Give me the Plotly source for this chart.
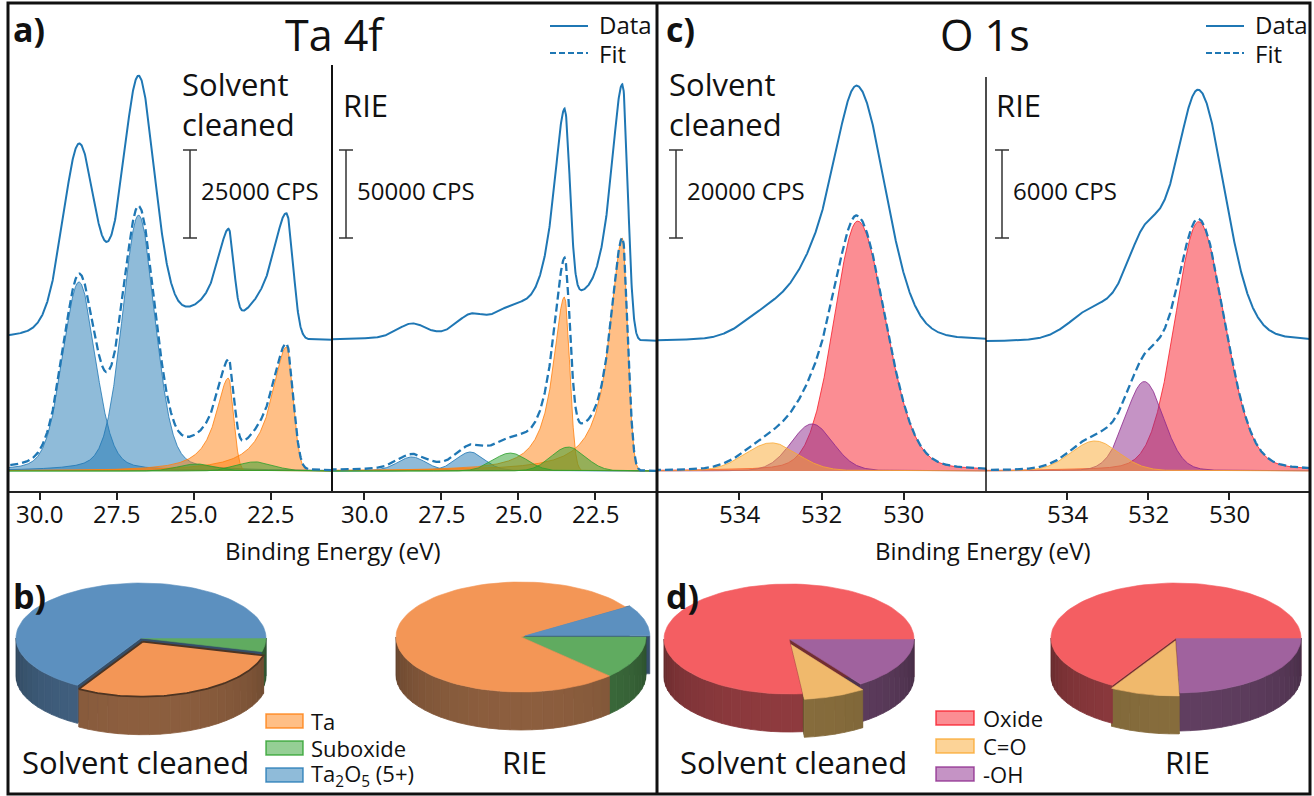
import numpy as np
import plotly.graph_objects as go

W, H = 1314, 796
FONT = "Open Sans"
INK = "#111111"

# ---------------- Ta 4f (binding energy eV, intensity CPS) ----------------
ta_component = ["Ta2O5", "Ta2O5", "Ta", "Ta", "Suboxide", "Suboxide"]
ta_eta_hi = [0.25, 0.25, 1.0, 1.0, 0.0, 0.0]
ta_eta_lo = [0.25, 0.25, 0.0, 0.0, 0.0, 0.0]

ta_sol_center = [28.73, 26.79, 23.87, 21.98, 24.90, 23.00]
ta_sol_height = [53700, 72700, 26400, 35200, 2000, 2600]
ta_sol_hw_hi = [0.63, 0.63, 0.50, 0.58, 0.70, 0.70]
ta_sol_hw_lo = [0.63, 0.63, 0.20, 0.25, 0.70, 0.70]
ta_sol_data_gain = [1, 1, 1, 1, 1, 1]
ta_sol_data_offset = 37000
ta_sol_scale_bar = 25000

ta_rie_center = [28.45, 26.56, 23.50, 21.62, 25.26, 23.38]
ta_rie_height = [8000, 10800, 98900, 132400, 10200, 13600]
ta_rie_hw_hi = [0.55, 0.55, 0.45, 0.50, 0.65, 0.65]
ta_rie_hw_lo = [0.55, 0.55, 0.20, 0.20, 0.65, 0.65]
ta_rie_data_gain = [1, 1, 1.1, 1.1, 1, 1]
ta_rie_data_offset = 74000
ta_rie_scale_bar = 50000

ta_ticks = [30.0, 27.5, 25.0, 22.5]
ta_tick_text = ["30.0", "27.5", "25.0", "22.5"]
ta_be_range = [31.04, 20.5]

# ---------------- O 1s ----------------
o_component = ["Oxide", "-OH", "C=O"]
o_eta_hi = [0.15, 0.1, 0.1]
o_eta_lo = [0.15, 0.1, 0.1]

o_sol_center = [531.12, 532.23, 533.22]
o_sol_height = [56800, 10700, 6400]
o_sol_hw_hi = [0.68, 0.60, 0.75]
o_sol_hw_lo = [0.80, 0.60, 0.75]
o_sol_data_gain = [1, 1, 1]
o_sol_data_offset = 29500
o_sol_scale_bar = 20000

o_rie_center = [530.75, 532.09, 533.31]
o_rie_height = [17000, 6100, 2050]
o_rie_hw_hi = [0.69, 0.55, 0.70]
o_rie_hw_lo = [0.76, 0.55, 0.70]
o_rie_data_gain = [1, 1, 1]
o_rie_data_offset = 8800
o_rie_scale_bar = 6000

o_ticks = [534, 532, 530]
o_tick_text = ["534", "532", "530"]
o_be_range = [536.0, 528.0]

# ---------------- pie fractions (%), clockwise from 3 o'clock ----------------
ta_pie_order = ["Suboxide", "Ta", "Ta2O5"]
ta_pie_solvent = [4.0, 29.5, 66.5]
ta_pie_rie = [12.5, 78.3, 9.2]
o_pie_order = ["-OH", "C=O", "Oxide"]
o_pie_solvent = [15.3, 8.0, 76.7]
o_pie_rie = [24.5, 9.0, 66.5]

# ---------------- styles ----------------
BASE = {"Ta2O5": (31, 119, 180), "Ta": (255, 127, 14), "Suboxide": (44, 160, 44),
        "Oxide": (248, 28, 40), "-OH": (140, 40, 140), "C=O": (250, 168, 48)}
PIE_TOP = {"Ta2O5": (92, 144, 191), "Ta": (243, 150, 86), "Suboxide": (96, 171, 96),
           "Oxide": (244, 94, 98), "C=O": (240, 185, 108), "-OH": (160, 98, 158)}
PIE_SIDE = {"Ta2O5": (66, 98, 130), "Ta": (140, 94, 62), "Suboxide": (62, 112, 62),
            "Oxide": (142, 58, 62), "C=O": (134, 108, 60), "-OH": (96, 62, 96)}
BLUE = "#1f77b4"

# pixel layout
FRAME_L, FRAME_R, FRAME_T, FRAME_B, MID_X = 8, 1310, 3, 794, 657
PLOT_TOP, AXIS_Y, BASE_Y = 65, 491, 471
BAR_TOP, BAR_BOT = 150, 238
TICKLABEL_Y = 513
SUB_PX = [(8, 332), (332, 657), (657, 986), (986, 1310)]


def PX(x):
    return x / W


def PY(y):
    return 1 - y / H


def rgb(c, a=None, f=1.0):
    r, g, b = [max(0, min(255, int(round(v * f)))) for v in c]
    return f"rgb({r},{g},{b})" if a is None else f"rgba({r},{g},{b},{a})"


def peak(x, c, h, whi, wlo, ehi, elo):
    d = x - c
    w = np.where(d > 0, whi, wlo)
    eta = np.where(d > 0, ehi, elo)
    u = (d / w) ** 2
    return h * ((1 - eta) * np.exp(-np.log(2) * u) + eta / (1 + u))


fig = go.Figure()


def add_spectrum(i, names, centers, heights, hwhi, hwlo, ehi, elo, gains, offset, xr, draw_order):
    xa = "x" if i == 1 else f"x{i}"
    ya = "y" if i == 1 else f"y{i}"
    x = np.linspace(min(xr), max(xr), 1200)
    comps = [peak(x, c, h, a, b, e1, e2)
             for c, h, a, b, e1, e2 in zip(centers, heights, hwhi, hwlo, ehi, elo)]
    for j in draw_order:
        col = BASE[names[j]]
        fig.add_trace(go.Scatter(x=x, y=comps[j], mode="lines", fill="tozeroy",
                                 fillcolor=rgb(col, 0.5), line=dict(color=rgb(col, 0.8), width=1),
                                 xaxis=xa, yaxis=ya, hoverinfo="skip", showlegend=False))
    fit = np.sum(comps, axis=0)
    data = np.sum([g * c for g, c in zip(gains, comps)], axis=0) + offset
    fig.add_trace(go.Scatter(x=x, y=fit, mode="lines", line=dict(color=BLUE, width=2.3, dash="8px,4px"),
                             xaxis=xa, yaxis=ya, hoverinfo="skip", showlegend=False))
    fig.add_trace(go.Scatter(x=x, y=data, mode="lines", line=dict(color=BLUE, width=2),
                             xaxis=xa, yaxis=ya, hoverinfo="skip", showlegend=False))


add_spectrum(1, ta_component, ta_sol_center, ta_sol_height, ta_sol_hw_hi, ta_sol_hw_lo,
             ta_eta_hi, ta_eta_lo, ta_sol_data_gain, ta_sol_data_offset, ta_be_range, [0, 1, 2, 3, 4, 5])
add_spectrum(2, ta_component, ta_rie_center, ta_rie_height, ta_rie_hw_hi, ta_rie_hw_lo,
             ta_eta_hi, ta_eta_lo, ta_rie_data_gain, ta_rie_data_offset, ta_be_range, [0, 1, 2, 3, 4, 5])
add_spectrum(3, o_component, o_sol_center, o_sol_height, o_sol_hw_hi, o_sol_hw_lo,
             o_eta_hi, o_eta_lo, o_sol_data_gain, o_sol_data_offset, o_be_range, [0, 1, 2])
add_spectrum(4, o_component, o_rie_center, o_rie_height, o_rie_hw_hi, o_rie_hw_lo,
             o_eta_hi, o_eta_lo, o_rie_data_gain, o_rie_data_offset, o_be_range, [0, 1, 2])

# ---------------- 3D pies (pixel overlay axes) ----------------


def add_pie(cx, cy, values, order, explode, outline, rx=125, ry=55, depth=38):
    fr = np.array(values, float) / np.sum(values)
    bnd = -2 * np.pi * np.concatenate([[0], np.cumsum(fr)])
    kw = dict(xaxis="x5", yaxis="y5", mode="lines", fill="toself", hoverinfo="skip", showlegend=False)
    offs = []
    for k in range(len(fr)):
        mid = (bnd[k] + bnd[k + 1]) / 2
        offs.append((explode[k] * np.cos(mid), -explode[k] * np.sin(mid)))
    # radial faces
    for k, name in enumerate(order):
        ox, oy = offs[k]
        for a in (bnd[k], bnd[k + 1]):
            ex, ey = cx + ox + rx * np.cos(a), cy + oy - ry * np.sin(a)
            c0x, c0y = cx + ox, cy + oy
            col = rgb(PIE_SIDE[name], f=0.8)
            fig.add_trace(go.Scatter(x=[c0x, ex, ex, c0x, c0x], y=[c0y, ey, ey + depth, c0y + depth, c0y],
                                     fillcolor=col, line=dict(color=col, width=0.5), **kw))
    # outer walls (front half only)
    for k, name in enumerate(order):
        ox, oy = offs[k]
        hi, lo = min(bnd[k], 0), max(bnd[k + 1], -np.pi)
        if lo >= hi:
            continue
        nseg = max(2, int(np.ceil((hi - lo) / (np.pi / 36))))
        edges = np.linspace(hi, lo, nseg + 1)
        for j in range(nseg):
            t = np.linspace(edges[j], edges[j + 1], 5)
            xs = cx + ox + rx * np.cos(t)
            ys = cy + oy - ry * np.sin(t)
            tm = (edges[j] + edges[j + 1]) / 2
            shade = 0.68 + 0.32 * abs(np.sin(tm)) ** 0.7
            col = rgb(PIE_SIDE[name], f=shade)
            fig.add_trace(go.Scatter(x=np.concatenate([xs, xs[::-1], xs[:1]]),
                                     y=np.concatenate([ys, ys[::-1] + depth, ys[:1]]),
                                     fillcolor=col, line=dict(color=col, width=0.8), **kw))
    # tops
    for k, name in enumerate(order):
        ox, oy = offs[k]
        t = np.linspace(bnd[k], bnd[k + 1], 90)
        xs = np.concatenate([[cx + ox], cx + ox + rx * np.cos(t), [cx + ox]])
        ys = np.concatenate([[cy + oy], cy + oy - ry * np.sin(t), [cy + oy]])
        if outline[k]:
            line = dict(color=rgb(PIE_SIDE[name], f=0.55), width=1.8)
        else:
            line = dict(color=rgb(PIE_TOP[name]), width=0.6)
        fig.add_trace(go.Scatter(x=xs, y=ys, fillcolor=rgb(PIE_TOP[name]), line=line, **kw))


add_pie(141, 638, ta_pie_solvent, ta_pie_order, [0, 4, 0], [0, 1, 0])
add_pie(521, 637, ta_pie_rie, ta_pie_order, [0, 0, 4], [0, 0, 0])
add_pie(789, 639, o_pie_solvent, o_pie_order, [0, 6, 0], [0, 0, 0])
add_pie(1176, 638, o_pie_rie, o_pie_order, [0, 3, 0], [0, 0, 0])

# ---------------- axes ----------------
layout = dict(width=W, height=H, margin=dict(l=0, r=0, t=0, b=0),
              paper_bgcolor="white", plot_bgcolor="rgba(0,0,0,0)", showlegend=False,
              font=dict(family=FONT, color=INK))
bars = [ta_sol_scale_bar, ta_rie_scale_bar, o_sol_scale_bar, o_rie_scale_bar]
ranges = [ta_be_range, ta_be_range, o_be_range, o_be_range]
ticks = [(ta_ticks, ta_tick_text)] * 2 + [(o_ticks, o_tick_text)] * 2
shapes = []
ann = []
for i in range(4):
    sfx = "" if i == 0 else str(i + 1)
    k = bars[i] / (BAR_BOT - BAR_TOP)
    layout["xaxis" + sfx] = dict(domain=[PX(SUB_PX[i][0]), PX(SUB_PX[i][1])], range=ranges[i],
                                 anchor="y" + sfx, showgrid=False, zeroline=False, showline=True,
                                 linecolor="#222", linewidth=1.5, ticks="outside", ticklen=7,
                                 tickwidth=1.5, tickcolor="#222", tickvals=ticks[i][0],
                                 showticklabels=False, fixedrange=True)
    layout["yaxis" + sfx] = dict(domain=[PY(AXIS_Y), PY(PLOT_TOP)],
                                 range=[-(AXIS_Y - BASE_Y) * k, (BASE_Y - PLOT_TOP) * k],
                                 anchor="x" + sfx, visible=False, fixedrange=True)
    # tick labels placed at the axis' own tick values
    for v, s in zip(*ticks[i]):
        ann.append(dict(text=s, x=v, xref="x" + sfx, y=PY(TICKLABEL_Y), yref="paper",
                        xanchor="center", yanchor="middle", showarrow=False,
                        font=dict(size=24, family=FONT, color=INK)))
layout["xaxis5"] = dict(domain=[0, 1], range=[0, W], anchor="y5", visible=False, fixedrange=True)
layout["yaxis5"] = dict(domain=[0, 1], range=[H, 0], anchor="x5", visible=False, fixedrange=True)


def line(x0, y0, x1, y1, w=1.5, color="#222", dash=None):
    d = dict(type="line", xref="paper", yref="paper", x0=PX(x0), y0=PY(y0), x1=PX(x1), y1=PY(y1),
             line=dict(color=color, width=w))
    if dash:
        d["line"]["dash"] = dash
    shapes.append(d)


def text(s, x, y, size, xanchor="left", yanchor="middle", bold=False):
    if bold:
        s = "<b>" + s + "</b>"
    ann.append(dict(text=s, x=PX(x), y=PY(y), xref="paper", yref="paper", xanchor=xanchor,
                    yanchor=yanchor, showarrow=False, font=dict(size=size, family=FONT, color=INK)))


# frame
shapes.append(dict(type="rect", xref="paper", yref="paper", x0=PX(FRAME_L), x1=PX(FRAME_R),
                   y0=PY(FRAME_B), y1=PY(FRAME_T), line=dict(color="#111", width=3)))
line(MID_X, FRAME_T, MID_X, FRAME_B, w=3, color="#111")
line(332, PLOT_TOP, 332, AXIS_Y, w=2, color="#111")
line(986, 77, 986, AXIS_Y, w=1.5, color="#111")

# scale bars
bar_x = [190, 346, 676, 1002]
bar_lbl = ["25000 CPS", "50000 CPS", "20000 CPS", "6000 CPS"]
for i in range(4):
    sfx = "" if i == 0 else str(i + 1)
    k = bars[i] / (BAR_BOT - BAR_TOP)
    y0 = (BASE_Y - BAR_BOT) * k
    y1 = y0 + bars[i]
    for (a, b, c, d) in [(bar_x[i], y0, bar_x[i], y1), (bar_x[i] - 7, y0, bar_x[i] + 7, y0),
                         (bar_x[i] - 7, y1, bar_x[i] + 7, y1)]:
        shapes.append(dict(type="line", xref="paper", yref="y" + sfx, x0=PX(a), x1=PX(c), y0=b, y1=d,
                           line=dict(color="#333", width=1.5)))
    text(bar_lbl[i], bar_x[i] + 9, 191, 24)

# titles and labels
text("a)", 11, 29, 34, bold=True)
text("c)", 664, 29, 34, bold=True)
text("b)", 11, 596, 34, bold=True)
text("d)", 664, 596, 34, bold=True)
text("Ta 4f", 283, 34, 43)
text("O 1s", 938, 34, 43)
for lx, tx in [(550, 597), (1206, 1253)]:
    line(lx, 26, lx + 38, 26, w=2, color=BLUE)
    line(lx, 53, lx + 38, 53, w=2, color=BLUE, dash="6px,3px")
    text("Data", tx, 25, 24)
    text("Fit", tx, 53, 24)
text("Solvent", 180, 84, 31)
text("cleaned", 180, 124, 31)
text("Solvent", 667, 84, 31)
text("cleaned", 667, 124, 31)
text("RIE", 341, 105, 31)
text("RIE", 994, 105, 31)
text("Binding Energy (eV)", 333, 550, 24, xanchor="center")
text("Binding Energy (eV)", 983, 550, 24, xanchor="center")

# pie labels
text("Solvent cleaned", 20, 762, 31)
text("RIE", 500, 762, 31)
text("Solvent cleaned", 678, 762, 31)
text("RIE", 1163, 762, 31)

legend_b = [("Ta", "Ta", 721), ("Suboxide", "Suboxide", 748), ("Ta2O5", "Ta<sub>2</sub>O<sub>5</sub> (5+)", 775)]
for key, label, yc in legend_b:
    c = BASE[key]
    shapes.append(dict(type="rect", xref="paper", yref="paper", x0=PX(266), x1=PX(303),
                       y0=PY(yc + 7), y1=PY(yc - 7), fillcolor=rgb(c, 0.5), line=dict(color=rgb(c, 0.8), width=1.5)))
    text(label, 309, yc, 22)
legend_d = [("Oxide", "Oxide", 718), ("C=O", "C=O", 746), ("-OH", "-OH", 774)]
for key, label, yc in legend_d:
    c = BASE[key]
    shapes.append(dict(type="rect", xref="paper", yref="paper", x0=PX(936), x1=PX(974),
                       y0=PY(yc + 7), y1=PY(yc - 7), fillcolor=rgb(c, 0.5), line=dict(color=rgb(c, 0.8), width=1.5)))
    text(label, 981, yc, 22)

layout["shapes"] = shapes
layout["annotations"] = ann
fig.update_layout(**layout)
fig.write_html("out.html")
